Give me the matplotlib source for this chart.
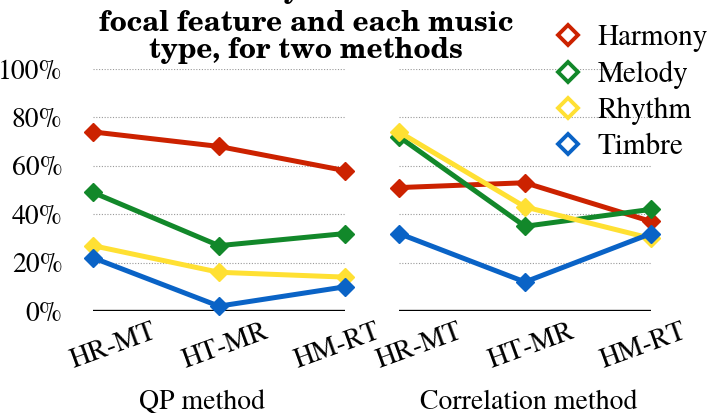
import numpy as np
import matplotlib
matplotlib.use('Agg')
from matplotlib import pyplot as plt
from matplotlib import font_manager as fm
from matplotlib.lines import Line2D

# data (percent)
pairs = ['HR-MT', 'HT-MR', 'HM-RT']
features = ['Harmony', 'Melody', 'Rhythm', 'Timbre']
colors = ['#cc2200', '#12882a', '#ffe033', '#0a63c6']

qp_harmony = [74, 68, 58]
qp_melody = [49, 27, 32]
qp_rhythm = [27, 16, 14]
qp_timbre = [22, 2, 10]

corr_harmony = [51, 53, 37]
corr_melody = [72, 35, 42]
corr_rhythm = [74, 43, 30]
corr_timbre = [32, 12, 32]

yticks = [0, 20, 40, 60, 80, 100]
ytick_labels = ['0%', '20%', '40%', '60%', '80%', '100%']

qp = [qp_harmony, qp_melody, qp_rhythm, qp_timbre]
corr = [corr_harmony, corr_melody, corr_rhythm, corr_timbre]

# pick the closest installed fonts
installed = set(f.name for f in fm.fontManager.ttflist)
def pick(cands):
	for c in cands:
		if c in installed:
			return c
	return 'DejaVu Serif'
body_font = pick(['TeX Gyre Termes', 'Nimbus Roman', 'Nimbus Roman No9 L', 'Liberation Serif'])
title_font = pick(['TeX Gyre Schola', 'C059', 'Century Schoolbook L', 'DejaVu Serif'])

plt.rcParams['font.family'] = 'serif'
plt.rcParams['font.serif'] = [body_font]

fig = plt.figure(figsize=(7.1, 4.13), dpi=100)
ax1 = fig.add_axes([93/710, 102/413, 252/710, 242/413])
ax2 = fig.add_axes([399/710, 102/413, 252/710, 242/413])

x = np.arange(len(pairs))
for ax, series, name in [(ax1, qp, 'QP method'), (ax2, corr, 'Correlation method')]:
	for g in yticks[1:]:
		ax.axhline(g, color='#999999', lw=0.8, ls=(0, (1, 1.5)), zorder=1)
	ax.axhline(0, color='black', lw=2.4, zorder=2)
	for vals, c in zip(series, colors):
		ax.plot(x, vals, color=c, lw=3.6, marker='D', ms=9.5, clip_on=False, zorder=3)
	ax.set_xlim(0, 2); ax.set_ylim(0, 100)
	for s in ax.spines.values():
		s.set_visible(False)
	ax.set_xticks(x*0.89 + 0.16)
	ax.set_xticklabels(pairs, rotation=20, fontsize=20, family=body_font)
	ax.tick_params(axis='x', length=0, pad=6)
	ax.set_xlabel(name, fontsize=20, family=body_font)
	ax.set_yticks([])

ax1.xaxis.set_label_coords(0.433, -0.327)
ax2.xaxis.set_label_coords(0.516, -0.327)
ax1.set_yticks(yticks)
ax1.set_yticklabels(ytick_labels, fontsize=20, family=body_font)
ax1.tick_params(axis='y', length=0, pad=22)

# title, first line runs off the top of the picture
fig.text(290/710, 1 + 2/413, 'Accuracy of each', ha='center', va='baseline',
		 fontsize=20, fontweight='bold', family=title_font)
fig.text(306/710, 1 - 58/413, 'focal feature and each music\ntype, for two methods',
		 ha='center', va='baseline', fontsize=20, fontweight='bold', family=title_font,
		 linespacing=1.0)

handles = [Line2D([], [], color=c, marker='D', ls='none', ms=10, mfc='white', mew=2.8) for c in colors]
fig.legend(handles, features, loc='upper left', bbox_to_anchor=(535/710, 1 - 13/413),
		   frameon=False, prop={'family': body_font, 'size': 21}, handletextpad=0.3,
		   labelspacing=0.28, borderaxespad=0, handlelength=1.45)

fig.savefig('out.png', dpi=100)
